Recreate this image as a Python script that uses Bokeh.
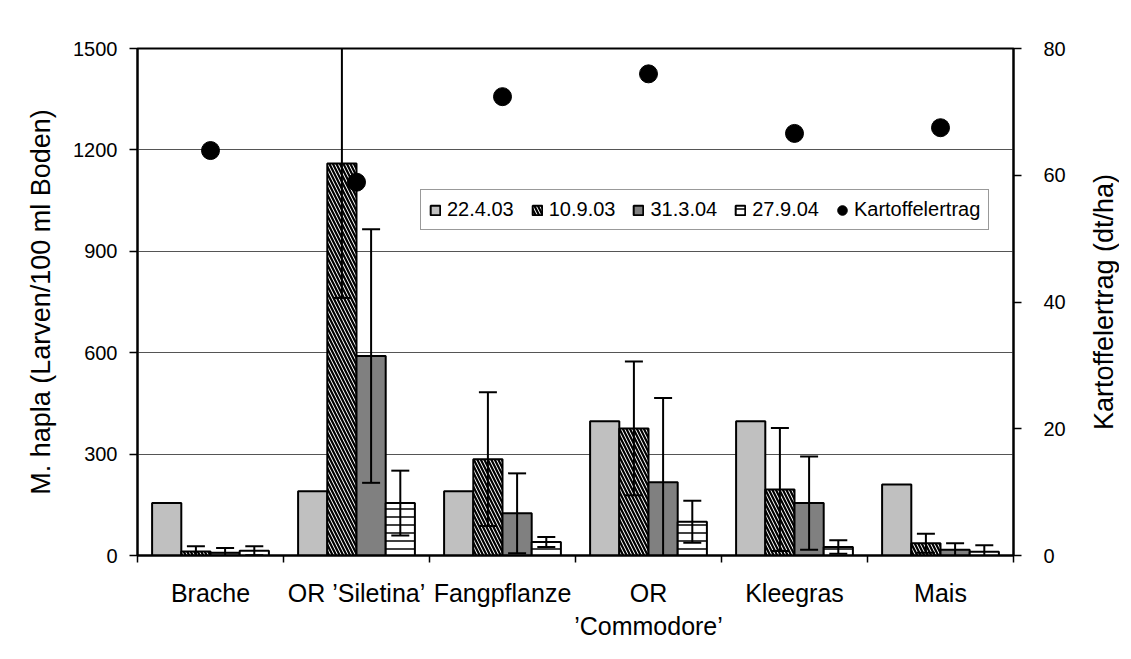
import math
import numpy as np
from bokeh.plotting import figure
from bokeh.models import Range1d, LinearAxis, FixedTicker, ColumnDataSource, Legend, LegendItem, Label
from bokeh.transform import dodge
from bokeh.embed import file_html
from bokeh.resources import INLINE

# ---------------- data ----------------
categories = ["Brache", "OR \u2019Siletina\u2019", "Fangpflanze", "OR\n\u2019Commodore\u2019", "Kleegras", "Mais"]
dates = ["22.4.03", "10.9.03", "31.3.04", "27.9.04"]

v_220403 = [155, 190, 190, 397, 397, 210]
v_100903 = [12, 1160, 285, 376, 195, 36]
v_310304 = [8, 590, 125, 217, 155, 17]
v_270904 = [14, 155, 40, 100, 25, 11]

e_100903 = [15, 398, 198, 198, 182, 28]
e_310304 = [14, 375, 118, 249, 138, 19]
e_270904 = [13, 96, 15, 62, 20, 19]

yield_dt = [63.9, 58.9, 72.4, 76.0, 66.6, 67.5]

y_ticks = [0, 300, 600, 900, 1200, 1500]
y2_ticks = [0, 20, 40, 60, 80]

FONT = "Liberation Sans"

# ---------------- figure ----------------
p = figure(frame_width=876, frame_height=507,
           x_range=Range1d(0, 6), y_range=Range1d(0, 1500),
           output_backend="svg", toolbar_location=None,
           min_border_left=137, min_border_right=106,
           min_border_top=48, min_border_bottom=88)
p.extra_y_ranges = {"yield": Range1d(0, 80)}
p.background_fill_color = "white"
p.border_fill_color = "white"
p.outline_line_color = "black"
p.outline_line_width = 2

centers = [i + 0.5 for i in range(len(categories))]
src = ColumnDataSource(dict(
    x=centers,
    v0=v_220403, v1=v_100903, v2=v_310304, v3=v_270904,
    lo1=np.array(v_100903) - np.array(e_100903), hi1=np.array(v_100903) + np.array(e_100903),
    lo2=np.array(v_310304) - np.array(e_310304), hi2=np.array(v_310304) + np.array(e_310304),
    lo3=np.array(v_270904) - np.array(e_270904), hi3=np.array(v_270904) + np.array(e_270904),
    yv=yield_dt,
))

offsets = [-0.3, -0.1, 0.1, 0.3]
bw = 0.2
r0 = p.vbar(x=dodge("x", offsets[0]), top="v0", width=bw, source=src,
            fill_color="#c0c0c0", line_color="black", line_width=2)
r1 = p.vbar(x=dodge("x", offsets[1]), top="v1", width=bw, source=src,
            fill_color="white", line_color="black", line_width=2,
            hatch_pattern="left_diagonal_line", hatch_color="black",
            hatch_scale=7, hatch_weight=2.2)
r2 = p.vbar(x=dodge("x", offsets[2]), top="v2", width=bw, source=src,
            fill_color="#808080", line_color="black", line_width=2)
r3 = p.vbar(x=dodge("x", offsets[3]), top="v3", width=bw, source=src,
            fill_color="white", line_color="black", line_width=2,
            hatch_pattern="horizontal_line", hatch_color="black",
            hatch_scale=8, hatch_weight=1.5)

for k in (1, 2, 3):
    xo = dodge("x", offsets[k])
    p.segment(x0=xo, x1=xo, y0="lo%d" % k, y1="hi%d" % k, source=src,
              line_color="black", line_width=2)
    p.scatter(x=xo, y="hi%d" % k, marker="dash", size=18, source=src,
              line_color="black", line_width=2)
    p.scatter(x=xo, y="lo%d" % k, marker="dash", size=18, source=src,
              line_color="black", line_width=2)

rd = p.ellipse(x="x", y="yv", y_range_name="yield", width=18, height=18,
               width_units="screen", height_units="screen",
               fill_color="black", line_color="black", source=src)

# ---------------- axes ----------------
xa = p.xaxis[0]
xa.ticker = FixedTicker(ticks=centers, minor_ticks=list(range(len(categories) + 1)))
xa.major_label_overrides = {c: lab for c, lab in zip(centers, categories)}
xa.major_tick_out = 0
xa.major_tick_in = 0
xa.minor_tick_out = 7
xa.minor_tick_in = 0
xa.minor_tick_line_color = "black"
xa.minor_tick_line_width = 1.5
xa.axis_line_color = "black"
xa.axis_line_width = 2
xa.major_label_text_font = FONT
xa.major_label_text_font_size = "25px"
xa.major_label_text_color = "black"
xa.major_label_standoff = 16
xa.major_label_text_line_height = 1.2

ya = p.yaxis[0]
ya.ticker = FixedTicker(ticks=y_ticks)
ya.axis_label = "M. hapla (Larven/100 ml Boden)"
ya.axis_label_text_font = FONT
ya.axis_label_text_font_size = "27px"
ya.axis_label_text_font_style = "normal"
ya.axis_label_text_color = "black"
ya.axis_label_standoff = 14
ya.major_label_text_font = FONT
ya.major_label_text_font_size = "20px"
ya.major_label_text_color = "black"
ya.major_label_standoff = 12
ya.major_tick_out = 8
ya.major_tick_in = 0
ya.major_tick_line_color = "black"
ya.major_tick_line_width = 1.5
ya.minor_tick_out = 0
ya.minor_tick_in = 0
ya.axis_line_color = "black"
ya.axis_line_width = 2

ra = LinearAxis(y_range_name="yield", ticker=FixedTicker(ticks=y2_ticks))
ra.major_label_text_font = FONT
ra.major_label_text_font_size = "20px"
ra.major_label_text_color = "black"
ra.major_label_standoff = 22
ra.major_tick_out = 8
ra.major_tick_in = 0
ra.major_tick_line_color = "black"
ra.major_tick_line_width = 1.5
ra.minor_tick_out = 0
ra.minor_tick_in = 0
ra.axis_line_color = "black"
ra.axis_line_width = 2
p.add_layout(ra, "right")

# right-hand axis title, reading bottom-to-top, placed in the right side panel
right_title = Label(x=6.62, y=750, text="Kartoffelertrag (dt/ha)",
                    angle=math.pi / 2, text_align="center", text_baseline="middle",
                    text_font=FONT, text_font_size="27px", text_color="black")
p.add_layout(right_title, "right")

p.xgrid.visible = False
p.ygrid.ticker = FixedTicker(ticks=y_ticks[1:-1])
p.ygrid.grid_line_color = "#555555"
p.ygrid.grid_line_width = 1

# ---------------- legend ----------------
legend = Legend(items=[
    LegendItem(label=dates[0], renderers=[r0]),
    LegendItem(label=dates[1], renderers=[r1]),
    LegendItem(label=dates[2], renderers=[r2]),
    LegendItem(label=dates[3], renderers=[r3]),
    LegendItem(label="Kartoffelertrag", renderers=[rd]),
], orientation="horizontal", location=(283, 325))
legend.label_text_font = FONT
legend.label_text_font_size = "20px"
legend.label_text_color = "black"
legend.glyph_width = 12
legend.glyph_height = 12
legend.label_standoff = 6
legend.spacing = 17
legend.padding = 8
legend.margin = 0
legend.border_line_color = "#333333"
legend.border_line_width = 1
legend.background_fill_color = "white"
legend.background_fill_alpha = 1
p.add_layout(legend, "center")

open("out.html", "w").write(file_html(p, INLINE))
